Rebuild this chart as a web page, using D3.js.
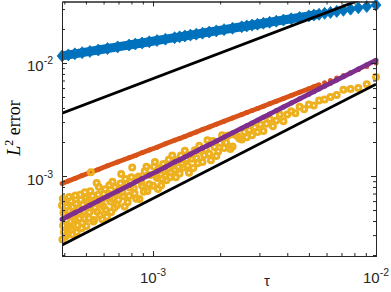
<!DOCTYPE html>
<html>
<head>
<meta charset="utf-8">
<script src="https://cdn.jsdelivr.net/npm/d3@7"></script>
<style>
body { margin: 0; background: #fff; }
svg { display: block; }
</style>
</head>
<body>
<div id="chart"></div>
<script>
// step sizes tau (0.1/N)
var tau = [0.01, 0.009091, 0.008333, 0.007692, 0.007143, 0.006667, 0.00625, 0.005882, 0.005556, 0.005263,
  0.005, 0.004545, 0.004167, 0.003846, 0.003571, 0.003333, 0.003125, 0.002941, 0.002778, 0.002632,
  0.0025, 0.002273, 0.002083, 0.001923, 0.001786, 0.001667, 0.001563, 0.001471, 0.001389, 0.001316,
  0.00125, 0.001136, 0.001042, 0.000962, 0.000893, 0.000833, 0.000781, 0.000694, 0.000625, 0.000568,
  0.000521, 0.000481, 0.000446, 0.000417, 0.000391];

var blueErr = [0.03258, 0.03160, 0.03074, 0.02996, 0.02925, 0.02861, 0.02803, 0.02749, 0.02699, 0.02653,
  0.02610, 0.02531, 0.02462, 0.02400, 0.02344, 0.02293, 0.02246, 0.02203, 0.02163, 0.02126,
  0.02091, 0.02029, 0.01972, 0.01923, 0.01878, 0.01837, 0.01799, 0.01765, 0.01733, 0.01703,
  0.01675, 0.01625, 0.01580, 0.01540, 0.01504, 0.01471, 0.01441, 0.01388, 0.01342, 0.01302,
  0.01266, 0.01234, 0.01205, 0.01179, 0.01155];

var orangeErr = [1.0e-2, 9.30e-3, 8.71e-3, 8.20e-3, 7.75e-3, 7.36e-3, 7.01e-3, 6.69e-3, 6.41e-3, 6.15e-3,
  5.92e-3, 5.51e-3, 5.16e-3, 4.85e-3, 4.59e-3, 4.35e-3, 4.15e-3, 3.96e-3, 3.79e-3, 3.64e-3,
  3.50e-3, 3.26e-3, 3.05e-3, 2.87e-3, 2.71e-3, 2.58e-3, 2.45e-3, 2.34e-3, 2.24e-3, 2.15e-3,
  2.07e-3, 1.93e-3, 1.80e-3, 1.70e-3, 1.61e-3, 1.52e-3, 1.45e-3, 1.33e-3, 1.23e-3, 1.14e-3,
  1.07e-3, 1.01e-3, 9.50e-4, 9.02e-4, 8.59e-4];

var purpleErr = [1.06e-2, 9.64e-3, 8.83e-3, 8.15e-3, 7.57e-3, 7.07e-3, 6.63e-3, 6.24e-3, 5.89e-3, 5.58e-3,
  5.30e-3, 4.82e-3, 4.42e-3, 4.08e-3, 3.79e-3, 3.53e-3, 3.31e-3, 3.12e-3, 2.94e-3, 2.79e-3,
  2.65e-3, 2.41e-3, 2.21e-3, 2.04e-3, 1.89e-3, 1.77e-3, 1.66e-3, 1.56e-3, 1.47e-3, 1.39e-3,
  1.33e-3, 1.20e-3, 1.10e-3, 1.02e-3, 9.46e-4, 8.83e-4, 8.28e-4, 7.36e-4, 6.63e-4, 6.02e-4,
  5.52e-4, 5.10e-4, 4.73e-4, 4.42e-4, 4.14e-4];

// noisy series, read point by point
var yellowTau = [0.01, 0.009091, 0.008333, 0.007692, 0.007143, 0.006667, 0.00625, 0.005882, 0.005556, 0.005263,
  0.005, 0.004762, 0.004545, 0.004348, 0.004167, 0.004, 0.003846, 0.003704, 0.003571, 0.003448,
  0.003333, 0.003226, 0.003125, 0.00303, 0.002941, 0.002857, 0.002778, 0.002703, 0.002632, 0.002564, 0.0025,
  0.002381, 0.002273, 0.002174, 0.002083, 0.002, 0.001923, 0.001852, 0.001786, 0.001724, 0.001667,
  0.001613, 0.001563, 0.001515, 0.001471, 0.001429, 0.001389, 0.001351, 0.001316, 0.001282, 0.00125,
  0.00122, 0.00119, 0.001163, 0.001136, 0.001111, 0.001087, 0.001064, 0.001042, 0.00102, 0.001,
  0.0009709, 0.0009434, 0.0009174, 0.0008929, 0.0008696, 0.0008475, 0.0008264, 0.0008065, 0.0007874, 0.0007692,
  0.0007519, 0.0007353, 0.0007194, 0.0007042, 0.0006897, 0.0006757, 0.0006623, 0.0006494, 0.0006369, 0.000625,
  0.0006135, 0.0006024, 0.0005917, 0.0005814, 0.0005714, 0.0005618, 0.0005525, 0.0005435, 0.0005348, 0.0005263,
  0.0005181, 0.0005102, 0.0005025, 0.000495, 0.0004878, 0.0004808, 0.0004739, 0.0004673, 0.0004608, 0.0004545,
  0.0004484, 0.0004425, 0.0004367, 0.000431, 0.0004255, 0.0004202, 0.0004149, 0.0004098, 0.0004049, 0.0004,
  0.0003953, 0.0003937, 0.0003922, 0.0003906,
  0.002439, 0.002326, 0.002222, 0.002128, 0.002041, 0.001961, 0.001887, 0.001818, 0.001754, 0.001695,
  0.001639, 0.001587, 0.001538, 0.001493, 0.001449, 0.001408, 0.00137, 0.001333, 0.001299, 0.001266,
  0.001235, 0.001205, 0.001176, 0.001149, 0.001124, 0.001099, 0.001075, 0.001053, 0.001031, 0.00101,
  0.0009615, 0.0009346, 0.0009091, 0.000885, 0.0008621, 0.0008403, 0.0008197, 0.0008, 0.0007813, 0.0007634,
  0.0007463, 0.0007299, 0.0007143, 0.0006993, 0.0006849, 0.0006711, 0.0006579, 0.0006452, 0.0006329, 0.0006211,
  0.0006098, 0.0005988, 0.0005882, 0.000578, 0.0005682, 0.0005587, 0.0005495, 0.0005405, 0.0005319, 0.0005236,
  0.0005155, 0.0005076, 0.0005, 0.0004926, 0.0004854, 0.0004785, 0.0004717, 0.0004651, 0.0004587, 0.0004525,
  0.0004464, 0.0004405, 0.0004348, 0.0004292, 0.0004237, 0.0004184, 0.0004132, 0.0004082, 0.0004032, 0.0003984,
  0.0003968];
var yellowErr = [7.5e-3, 6.5e-3, 6.0e-3, 5.9e-3, 5.8e-3, 5.2e-3, 5.0e-3, 4.75e-3, 4.65e-3, 4.2e-3,
  4.3e-3, 3.9e-3, 4.1e-3, 3.6e-3, 3.75e-3, 3.5e-3, 3.05e-3, 3.5e-3, 3.1e-3, 2.75e-3,
  3.2e-3, 2.9e-3, 2.5e-3, 2.85e-3, 2.45e-3, 2.7e-3, 2.3e-3, 2.55e-3, 2.2e-3, 2.45e-3, 2.1e-3,
  2.26e-3, 1.82e-3, 2.28e-3, 1.77e-3, 1.96e-3, 1.50e-3, 2.04e-3, 1.57e-3, 1.72e-3, 1.33e-3,
  1.85e-3, 1.44e-3, 1.18e-3, 1.54e-3, 1.23e-3, 1.67e-3, 1.28e-3, 1.05e-3, 1.38e-3, 1.13e-3,
  1.52e-3, 9.76e-4, 1.16e-3, 1.0e-3, 1.28e-3, 8.26e-4, 1.12e-3, 9.59e-4, 1.33e-3, 8.2e-4,
  1.02e-3, 7.36e-4, 1.10e-3, 8.21e-4, 6.26e-4, 9.49e-4, 7.02e-4, 1.19e-3, 7.87e-4, 5.85e-4,
  9.40e-4, 6.62e-4, 1.04e-3, 7.61e-4, 5.52e-4, 7.97e-4, 6.29e-4, 4.81e-4, 8.28e-4, 6.38e-4,
  5.03e-4, 6.93e-4, 4.14e-4, 5.64e-4, 8.0e-4, 4.83e-4, 6.08e-4, 4.08e-4, 6.69e-4, 1.08e-3,
  4.77e-4, 6.02e-4, 3.62e-4, 7.18e-4, 4.88e-4, 3.85e-4, 6.16e-4, 4.21e-4, 5.16e-4, 3.18e-4,
  6.73e-4, 4.20e-4, 5.33e-4, 3.36e-4, 4.47e-4, 6.51e-4, 3.53e-4, 5.33e-4, 2.92e-4, 4.6e-4,
  3.64e-4, 6.3e-4, 2.75e-4, 5.47e-4,
  2.15e-3, 2.33e-3, 1.73e-3, 1.98e-3, 2.29e-3, 1.65e-3, 1.81e-3, 1.38e-3, 2.07e-3, 1.53e-3,
  1.67e-3, 1.30e-3, 1.69e-3, 1.42e-3, 1.07e-3, 1.41e-3, 1.19e-3, 1.52e-3, 1.21e-3, 9.75e-4,
  1.30e-3, 1.08e-3, 1.39e-3, 9.19e-4, 1.12e-3, 9.45e-4, 1.18e-3, 7.69e-4, 1.0e-3, 1.21e-3,
  8.46e-4, 1.21e-3, 7.27e-4, 8.85e-4, 9.91e-4, 6.30e-4, 7.79e-4, 9.76e-4, 6.64e-4, 8.40e-4,
  5.37e-4, 7.15e-4, 8.57e-4, 6.15e-4, 7.19e-4, 5.23e-4, 8.88e-4, 5.94e-4, 6.96e-4, 4.35e-4,
  7.62e-4, 5.39e-4, 6.18e-4, 4.51e-4, 6.82e-4, 8.66e-4, 5.22e-4, 3.95e-4, 5.85e-4, 7.33e-4,
  4.23e-4, 5.33e-4, 6.4e-4, 4.19e-4, 5.58e-4, 3.45e-4, 6.84e-4, 4.74e-4, 3.67e-4, 5.66e-4,
  4.02e-4, 4.85e-4, 3.04e-4, 6.01e-4, 3.60e-4, 4.94e-4, 3.10e-4, 4.08e-4, 6.05e-4, 3.19e-4,
  4.76e-4];

// reference slopes
var refTau = [0.000391, 0.01];
var refHigh = [3.6e-3, 4.1e-2];
var refLow = [2.45e-4, 6.5e-3];

var xMajor = [1e-3, 1e-2];
var xMinor = [4e-4, 5e-4, 6e-4, 7e-4, 8e-4, 9e-4, 2e-3, 3e-3, 4e-3, 5e-3, 6e-3, 7e-3, 8e-3, 9e-3];
var yMajor = [1e-3, 1e-2];
var yMinor = [2e-4, 3e-4, 4e-4, 5e-4, 6e-4, 7e-4, 8e-4, 9e-4, 2e-3, 3e-3, 4e-3, 5e-3, 6e-3, 7e-3, 8e-3, 9e-3, 2e-2, 3e-2];
var xExp = ["-3", "-2"];
var yExp = ["-3", "-2"];

var W = 391, H = 292;
var margin = {left: 62, right: 15, top: 1.5, bottom: 36};
var axisColor = "#262626";

var svg = d3.select("#chart").append("svg")
    .attr("width", W)
    .attr("height", H);

var x = d3.scaleLog().domain([0.0003906, 0.01]).range([margin.left, W - margin.right]);
var y = d3.scaleLog().domain([1.96e-4, 3.5e-2]).range([H - margin.bottom, margin.top]);

var x0 = margin.left, x1 = W - margin.right, y0 = H - margin.bottom, y1 = margin.top;

svg.append("clipPath").attr("id", "clip")
  .append("rect").attr("x", x0).attr("y", y1).attr("width", x1 - x0).attr("height", y0 - y1);

var pts = function(ts, vals) {
  return ts.map(function(t, i) { return [t, vals[i]]; });
};
var line = d3.line().x(function(d) { return x(d[0]); }).y(function(d) { return y(d[1]); });

// blue diamonds
var blueG = svg.append("g");
blueG.append("path")
    .datum(pts(tau, blueErr).filter(function(d) { return d[0] < 0.0056; }))
    .attr("d", line)
    .attr("fill", "none")
    .attr("stroke", "#0072BD")
    .attr("stroke-width", 9);
blueG.selectAll("path.dia")
    .data(pts(tau, blueErr))
  .enter().append("path")
    .attr("class", "dia")
    .attr("d", "M0,-6L5,0L0,6L-5,0Z")
    .attr("transform", function(d) { return "translate(" + x(d[0]) + "," + y(d[1]) + ")"; })
    .attr("fill", "#0072BD")
    .attr("stroke", "#0072BD")
    .attr("stroke-width", 0.8);

// orange
var orangeG = svg.append("g");
orangeG.append("path")
    .datum(pts(tau, orangeErr).filter(function(d) { return d[0] < 0.0056; }))
    .attr("d", line)
    .attr("fill", "none")
    .attr("stroke", "#D95319")
    .attr("stroke-width", 4.8);
orangeG.selectAll("circle")
    .data(pts(tau, orangeErr))
  .enter().append("circle")
    .attr("cx", function(d) { return x(d[0]); })
    .attr("cy", function(d) { return y(d[1]); })
    .attr("r", 2.5)
    .attr("fill", "#D95319");

// yellow rings
svg.append("g").selectAll("circle")
    .data(pts(yellowTau, yellowErr))
  .enter().append("circle")
    .attr("cx", function(d) { return x(d[0]); })
    .attr("cy", function(d) { return y(d[1]); })
    .attr("r", 2.5)
    .attr("fill", "none")
    .attr("stroke", "#EDB120")
    .attr("stroke-width", 3);

// purple
var purpleG = svg.append("g");
purpleG.append("path")
    .datum(pts(tau, purpleErr))
    .attr("d", line)
    .attr("fill", "none")
    .attr("stroke", "#7E2F8E")
    .attr("stroke-width", 4.8);
purpleG.selectAll("circle")
    .data(pts(tau, purpleErr))
  .enter().append("circle")
    .attr("cx", function(d) { return x(d[0]); })
    .attr("cy", function(d) { return y(d[1]); })
    .attr("r", 2.5)
    .attr("fill", "#7E2F8E");

// black reference lines
[refHigh, refLow].forEach(function(r) {
  svg.append("path")
      .datum(pts(refTau, r))
      .attr("d", line)
      .attr("clip-path", "url(#clip)")
      .attr("fill", "none")
      .attr("stroke", "#000")
      .attr("stroke-width", 2.8);
});

// axes box with inward ticks
function styleAxis(g) {
  g.selectAll("path, line").attr("stroke", axisColor).attr("stroke-width", 1);
  g.selectAll("text").remove();
}
function addAxis(gen, tr, vals, len) {
  svg.append("g")
      .attr("transform", tr)
      .call(gen.tickValues(vals).tickSize(-len).tickSizeOuter(0).tickFormat(""))
      .call(styleAxis);
}
addAxis(d3.axisBottom(x), "translate(0," + y0 + ")", xMinor, 3);
addAxis(d3.axisBottom(x), "translate(0," + y0 + ")", xMajor, 5);
addAxis(d3.axisTop(x), "translate(0," + y1 + ")", xMinor, 3);
addAxis(d3.axisTop(x), "translate(0," + y1 + ")", xMajor, 5);
addAxis(d3.axisLeft(y), "translate(" + x0 + ",0)", yMinor, 3);
addAxis(d3.axisLeft(y), "translate(" + x0 + ",0)", yMajor, 5);
addAxis(d3.axisRight(y), "translate(" + x1 + ",0)", yMinor, 3);
addAxis(d3.axisRight(y), "translate(" + x1 + ",0)", yMajor, 5);

// tick labels 10^k
var labelFont = "'Liberation Sans', Arial, sans-serif";
xMajor.forEach(function(v, i) {
  var t = svg.append("text")
      .attr("x", x(v))
      .attr("y", y0 + 27)
      .attr("text-anchor", "middle")
      .style("font-family", labelFont)
      .style("font-size", "15px")
      .attr("fill", axisColor);
  t.append("tspan").text("10");
  t.append("tspan").attr("dy", -7).style("font-size", "10.5px").text(xExp[i]);
});
yMajor.forEach(function(v, i) {
  var t = svg.append("text")
      .attr("x", x0 - 9)
      .attr("y", y(v) + 8.5)
      .attr("text-anchor", "end")
      .style("font-family", labelFont)
      .style("font-size", "15px")
      .attr("fill", axisColor);
  t.append("tspan").text("10");
  t.append("tspan").attr("dy", -7).style("font-size", "10.5px").text(yExp[i]);
});

// axis titles
svg.append("text")
    .attr("x", 267)
    .attr("y", 286)
    .attr("text-anchor", "middle")
    .style("font-family", labelFont)
    .style("font-size", "15px")
    .attr("fill", axisColor)
    .text("τ");

var yl = svg.append("text")
    .attr("transform", "translate(19.5,128) rotate(-90)")
    .attr("text-anchor", "middle")
    .style("font-family", "'Liberation Serif', 'Times New Roman', serif")
    .style("font-size", "18px")
    .attr("fill", "#000");
yl.append("tspan").style("font-style", "italic").text("L");
yl.append("tspan").attr("dy", -7).style("font-size", "12px").text("2");
yl.append("tspan").attr("dy", 7).text(" error");
</script>
</body>
</html>
